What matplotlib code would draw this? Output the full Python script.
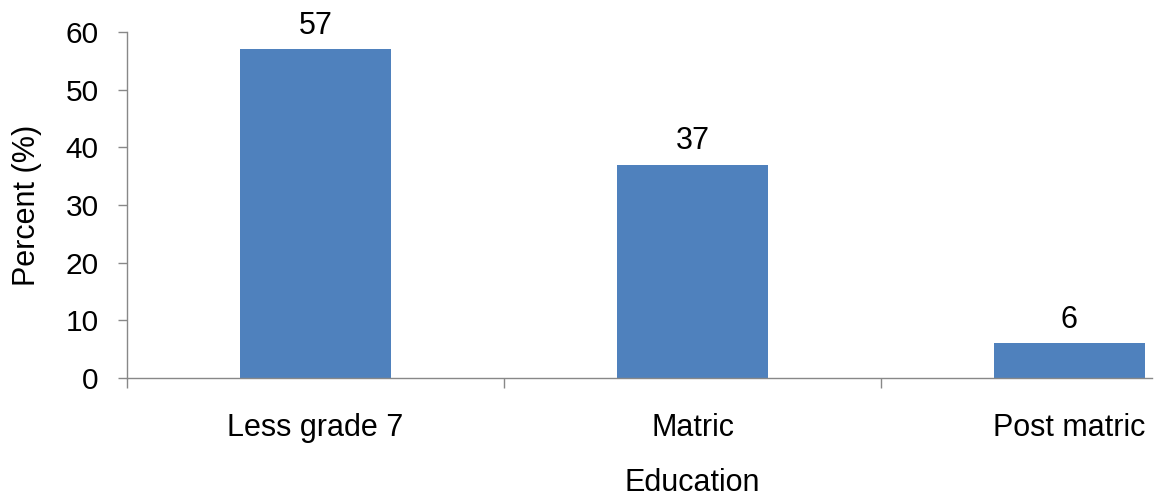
import matplotlib
matplotlib.use("Agg")
import matplotlib.pyplot as plt
from matplotlib.ticker import FixedLocator, NullFormatter

categories = ["Less grade 7", "Matric", "Post matric"]
values = [57, 37, 6]
yticks = [0, 10, 20, 30, 40, 50, 60]

plt.rcParams['font.family'] = ['Liberation Sans', 'DejaVu Sans']

fig = plt.figure(figsize=(11.59, 4.97), dpi=100)
AX_W = 1152 - 127
AX_H = 378 - 32
ax = fig.add_axes([127/1159, 1-378/497, AX_W/1159, AX_H/497])

x = list(range(len(categories)))
ax.bar(x, values, width=0.40, color="#4F81BD", zorder=2)

ax.set_xlim(-0.5, AX_W/377 - 0.5)
ax.set_ylim(0, 60)
ax.set_yticks(yticks)
ax.tick_params(axis='y', labelsize=21.5, length=6.5, width=1, color='#888888', pad=14, direction='out')

# Major ticks at category boundaries, labels at centers via minor ticks
ax.xaxis.set_major_locator(FixedLocator([-0.5, 0.5, 1.5]))
ax.xaxis.set_major_formatter(NullFormatter())
ax.xaxis.set_minor_locator(FixedLocator(x))
ax.set_xticklabels(categories, minor=True)
ax.tick_params(axis='x', which='major', length=7, width=1, color='#888888', direction='out')
ax.tick_params(axis='x', which='minor', length=0, labelsize=22, pad=25)

for s in ['top', 'right']:
    ax.spines[s].set_visible(False)
for s in ['left', 'bottom']:
    ax.spines[s].set_color('#888888')
    ax.spines[s].set_linewidth(1)

for xi, v in zip(x, values):
    ax.annotate(str(v), (xi, v), xytext=(0, 6), textcoords='offset points',
                ha='center', va='bottom', fontsize=22)

ax.set_ylabel("Percent (%)", fontsize=22)
ax.yaxis.set_label_coords((27-127)/AX_W, 0.5, transform=ax.transAxes)
ax.yaxis.label.set_va('center')
ax.set_xlabel("Education", fontsize=22)
ax.xaxis.set_label_coords((692-127)/AX_W, -(483-378)/AX_H, transform=ax.transAxes)
ax.xaxis.label.set_va('center')

fig.savefig("out.png", dpi=100)
